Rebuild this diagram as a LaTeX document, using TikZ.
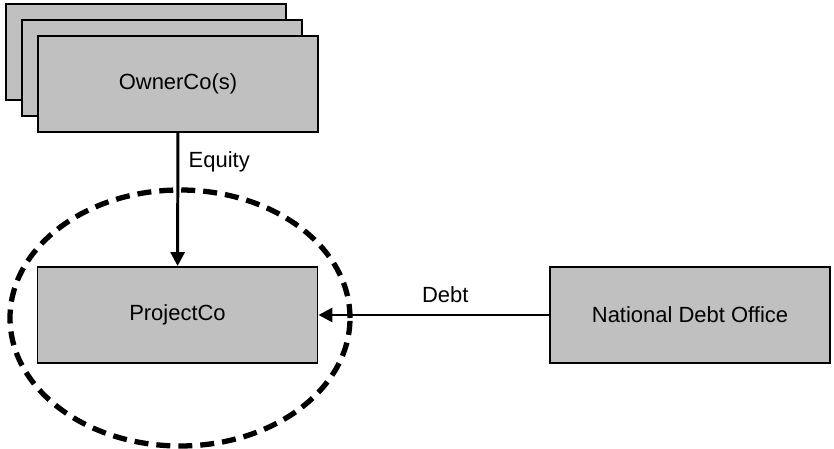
\documentclass[tikz,border=0pt]{standalone}
\usepackage{fontspec}
\setmainfont{Liberation Sans}
\usetikzlibrary{arrows.meta}
\usetikzlibrary{positioning}

\begin{document}
\begin{tikzpicture}[->,>={Triangle[length=0.28cm,width=0.28cm]},
    font=\fontsize{12.5}{15}\selectfont,
    co node/.style={rectangle,draw,line width=1.1pt,fill=boxgray,minimum width=5.6cm,minimum height=1.92cm},
    flow/.style={line width=1.7pt}]
   \definecolor{boxgray}{RGB}{192,192,192}
   \useasboundingbox (0,0) rectangle (16.68,8.98);
   \begin{scope}
     % stacked owner companies
     \node[co node] (o3) at (2.92,7.94) {};
     \node[co node] (o2) at (3.24,7.62) {};
     \node[co node] (owner) at (3.56,7.30) {OwnerCo(s)};

     \node[co node] (project) at (3.55,2.68) {ProjectCo};
     \node[co node] (ndo) at (13.80,2.68) {National Debt Office};

     \draw[-,line width=3pt,dash pattern=on 0.28cm off 0.16cm] (3.6,2.62) ellipse (3.4cm and 2.56cm);

     \path[flow] (owner) edge node[pos=0.22,right=2pt] {Equity} (project);
     \path[flow] (ndo) edge node[pos=0.45,above=3pt] {Debt} (project);
   \end{scope}
\end{tikzpicture}
\end{document}
